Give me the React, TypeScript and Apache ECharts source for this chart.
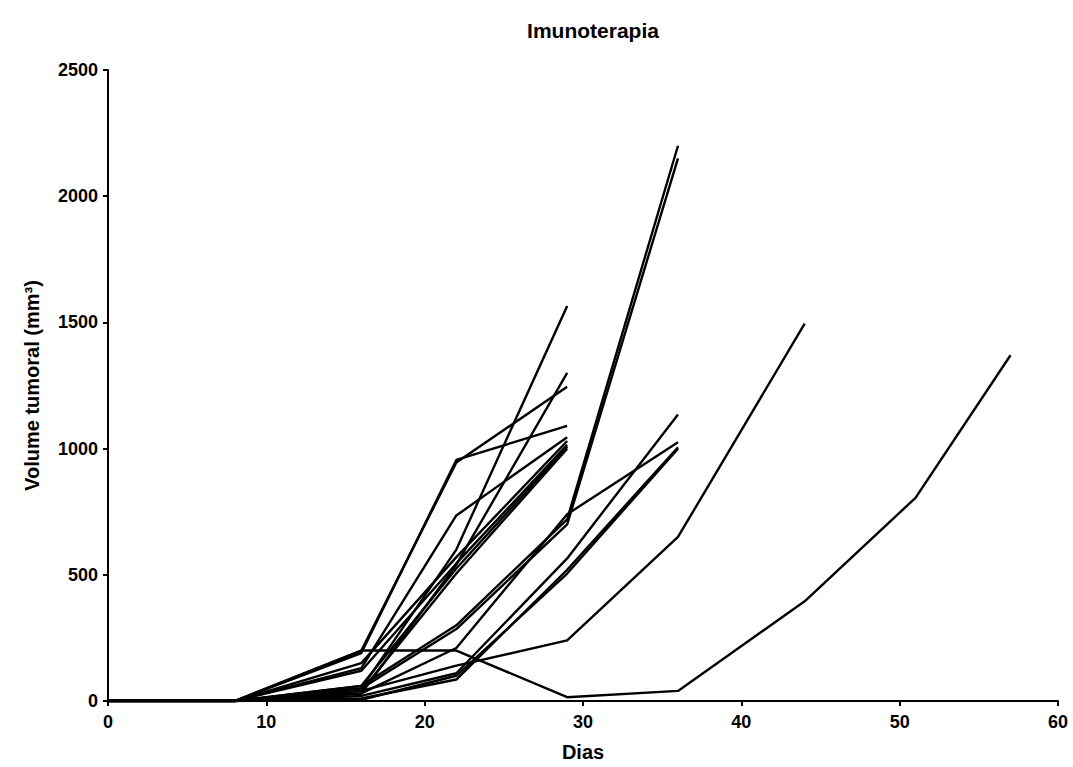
import React, { useEffect, useRef } from "react";
import * as echarts from "echarts";

const title = "Imunoterapia";
const xName = "Dias";
const yName = "Volume tumoral (mm³)";
const xTicks = [0, 10, 20, 30, 40, 50, 60];
const yTicks = [0, 500, 1000, 1500, 2000, 2500];

// measurement days
const days = [0, 8, 16, 22, 29, 36, 44, 51, 57];

// tumor volume per animal (series stop at the last measurement)
const animal1 = [0, 0, 200, 945, 1245];
const animal2 = [0, 0, 190, 955, 1090];
const animal3 = [0, 0, 50, 600, 1565];
const animal4 = [0, 0, 30, 540, 1300];
const animal5 = [0, 0, 130, 735, 1045];
const animal6 = [0, 0, 150, 570, 1030];
const animal7 = [0, 0, 120, 545, 1015];
const animal8 = [0, 0, 60, 525, 1008];
const animal9 = [0, 0, 40, 505, 1000];
const animal10 = [0, 0, 60, 300, 720, 2200];
const animal11 = [0, 0, 50, 285, 700, 2150];
const animal12 = [0, 0, 30, 210, 740, 1025];
const animal13 = [0, 0, 20, 110, 565, 1135];
const animal14 = [0, 0, 10, 85, 520, 1005];
const animal15 = [0, 0, 5, 100, 505, 1000];
const animal16 = [0, 0, 40, 140, 240, 650, 1495];
const animal17 = [0, 0, 200, 200, 15, 40, 395, 805, 1370];

const animals = [
  animal1, animal2, animal3, animal4, animal5, animal6, animal7, animal8, animal9,
  animal10, animal11, animal12, animal13, animal14, animal15, animal16, animal17,
];

export default function App() {
  const ref = useRef<HTMLDivElement>(null);
  useEffect(() => {
    if (!ref.current) return;
    const chart = echarts.init(ref.current, undefined, { renderer: "svg" });
    const font = "Liberation Sans";
    chart.setOption({
      animation: false,
      backgroundColor: "#ffffff",
      title: {
        text: title,
        left: 588,
        textAlign: "center",
        top: 15,
        textStyle: { fontFamily: font, fontWeight: "bold", fontSize: 21, color: "#000" },
      },
      grid: { left: 108, right: 15, top: 70, bottom: 64 },
      xAxis: {
        type: "value",
        min: xTicks[0],
        max: xTicks[xTicks.length - 1],
        interval: 10,
        name: xName,
        nameLocation: "middle",
        nameGap: 41,
        nameTextStyle: { fontFamily: font, fontWeight: "bold", fontSize: 20, color: "#000" },
        axisLine: { lineStyle: { color: "#000", width: 2 } },
        axisTick: { show: true, length: 5, lineStyle: { color: "#000", width: 2 } },
        axisLabel: {
          fontFamily: font, fontWeight: "bold", fontSize: 18, color: "#000", margin: 12,
          formatter: (v: number) => String(v),
        },
        splitLine: { show: false },
      },
      yAxis: {
        type: "value",
        min: yTicks[0],
        max: yTicks[yTicks.length - 1],
        interval: 500,
        name: yName,
        nameLocation: "middle",
        nameGap: 66,
        nameTextStyle: { fontFamily: font, fontWeight: "bold", fontSize: 20, color: "#000" },
        axisLine: { show: true, lineStyle: { color: "#000", width: 2 } },
        axisTick: { show: true, length: 5, lineStyle: { color: "#000", width: 2 } },
        axisLabel: {
          fontFamily: font, fontWeight: "bold", fontSize: 18, color: "#000", margin: 10,
          formatter: (v: number) => String(v),
        },
        splitLine: { show: false },
      },
      series: animals.map((vals, i) => ({
        type: "line",
        name: "A" + (i + 1),
        data: vals.map((v, j) => [days[j], v]),
        showSymbol: false,
        symbol: "none",
        lineStyle: { color: "#000", width: 2.4 },
        z: 3,
      })),
    });
    return () => chart.dispose();
  }, []);
  return (
    <div
      ref={ref}
      style={{ position: "absolute", left: 0, top: 0, width: 1073, height: 767, background: "#fff" }}
    />
  );
}
